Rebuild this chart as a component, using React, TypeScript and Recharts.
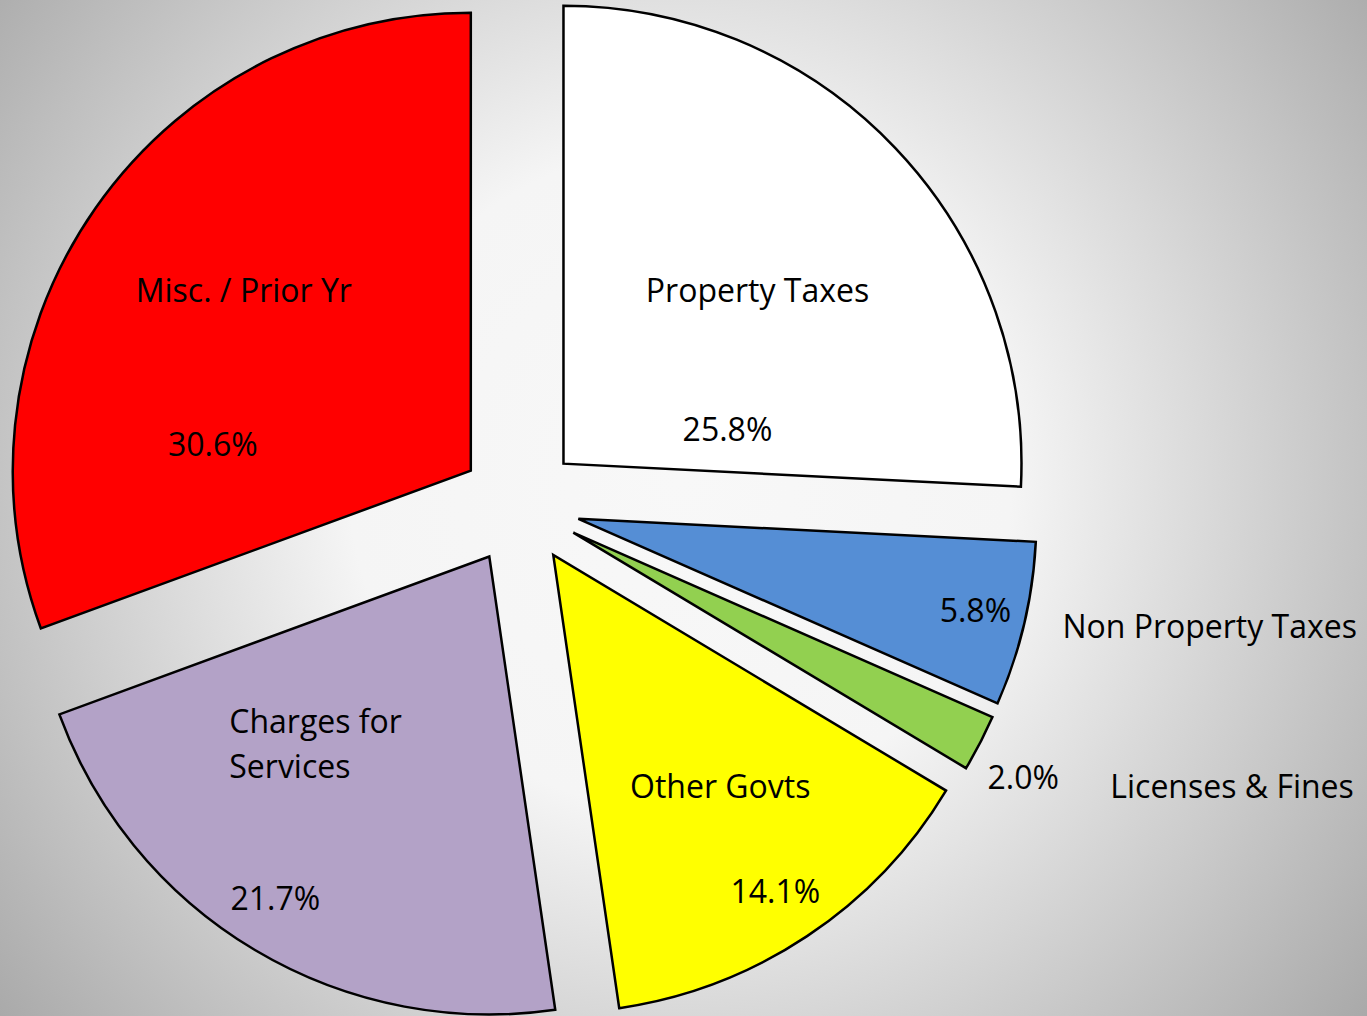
import React from 'react';
import { PieChart, Pie, Cell } from 'recharts';

// revenue shares, clockwise from 12 o'clock
const categories = [
  'Property Taxes',
  'Non Property Taxes',
  'Licenses & Fines',
  'Other Govts',
  'Charges for Services',
  'Misc. / Prior Yr',
];
const shares = [25.8, 5.8, 2.0, 14.1, 21.7, 30.6];
const shareLabels = ['25.8%', '5.8%', '2.0%', '14.1%', '21.7%', '30.6%'];
const colors = ['#ffffff', '#558ed5', '#92d050', '#ffff00', '#b3a2c7', '#ff0000'];

// label placement relative to each exploded slice's apex
const nameLines = [
  ['Property Taxes'],
  ['Non Property Taxes'],
  ['Licenses & Fines'],
  ['Other Govts'],
  ['Charges for', 'Services'],
  ['Misc. / Prior Yr'],
];
const nameOffsets = [
  { dx: 194, dy: -175, anchor: 'middle' },
  { dx: 484, dy: 106, anchor: 'start' },
  { dx: 537, dy: 252, anchor: 'start' },
  { dx: 167, dy: 230, anchor: 'middle' },
  { dx: -260, dy: 163, anchor: 'start' },
  { dx: -227, dy: -182, anchor: 'middle' },
];
const pctOffsets = [
  { dx: 164, dy: -35 },
  { dx: 397, dy: 91 },
  { dx: 450, dy: 244 },
  { dx: 222, dy: 336 },
  { dx: -214, dy: 341 },
  { dx: -258, dy: -27 },
];

const WIDTH = 1367;
const HEIGHT = 1016;
const CX = 520;
const CY = 505;
const RADIUS = 458;
const EXPLODE = 60;
const FONT = '"Open Sans", sans-serif';
const FONT_SIZE = 32;

const rows = categories.map((name, i) => ({ name, value: shares[i] }));
const total = shares.reduce((a, b) => a + b, 0);

const midAngles = shares.map((v, i) => {
  const before = shares.slice(0, i).reduce((a, b) => a + b, 0);
  return ((before + v / 2) / total) * 360; // compass degrees
});

const makeLabel = (own: number) => (props: any) => {
  if (props.index !== own) return null;
  const { cx, cy } = props;
  const n = nameOffsets[own];
  const p = pctOffsets[own];
  return (
    <g>
      <text
        x={cx + n.dx}
        y={cy + n.dy}
        textAnchor={n.anchor as any}
        dominantBaseline="central"
        fontFamily={FONT}
        fontSize={FONT_SIZE}
        fill="#000"
      >
        {nameLines[own].map((line, k) => (
          <tspan key={k} x={cx + n.dx} dy={k === 0 ? 0 : 45}>
            {line}
          </tspan>
        ))}
      </text>
      <text
        x={cx + p.dx}
        y={cy + p.dy}
        textAnchor="middle"
        dominantBaseline="central"
        fontFamily={FONT}
        fontSize={FONT_SIZE}
        fill="#000"
      >
        {shareLabels[own]}
      </text>
    </g>
  );
};

const App: React.FC = () => {
  return (
    <div
      style={{
        position: 'absolute',
        left: 0,
        top: 0,
        width: WIDTH,
        height: HEIGHT,
        background:
          'radial-gradient(circle farthest-corner at 680px 480px, #f8f8f8 0%, #f5f5f5 38%, #a9a9a9 100%)',
      }}
    >
      <PieChart width={WIDTH} height={HEIGHT} margin={{ top: 0, right: 0, bottom: 0, left: 0 }}>
        {categories.map((name, i) => {
          const rad = (midAngles[i] * Math.PI) / 180;
          return (
            <Pie
              key={name}
              data={rows}
              dataKey="value"
              nameKey="name"
              cx={CX + EXPLODE * Math.sin(rad)}
              cy={CY - EXPLODE * Math.cos(rad)}
              outerRadius={RADIUS}
              startAngle={90}
              endAngle={-270}
              isAnimationActive={false}
              labelLine={false}
              label={makeLabel(i)}
            >
              {rows.map((r, j) => (
                <Cell
                  key={r.name}
                  fill={j === i ? colors[j] : 'none'}
                  stroke={j === i ? '#000' : 'none'}
                  strokeWidth={2.5}
                />
              ))}
            </Pie>
          );
        })}
      </PieChart>
    </div>
  );
};

export default App;
